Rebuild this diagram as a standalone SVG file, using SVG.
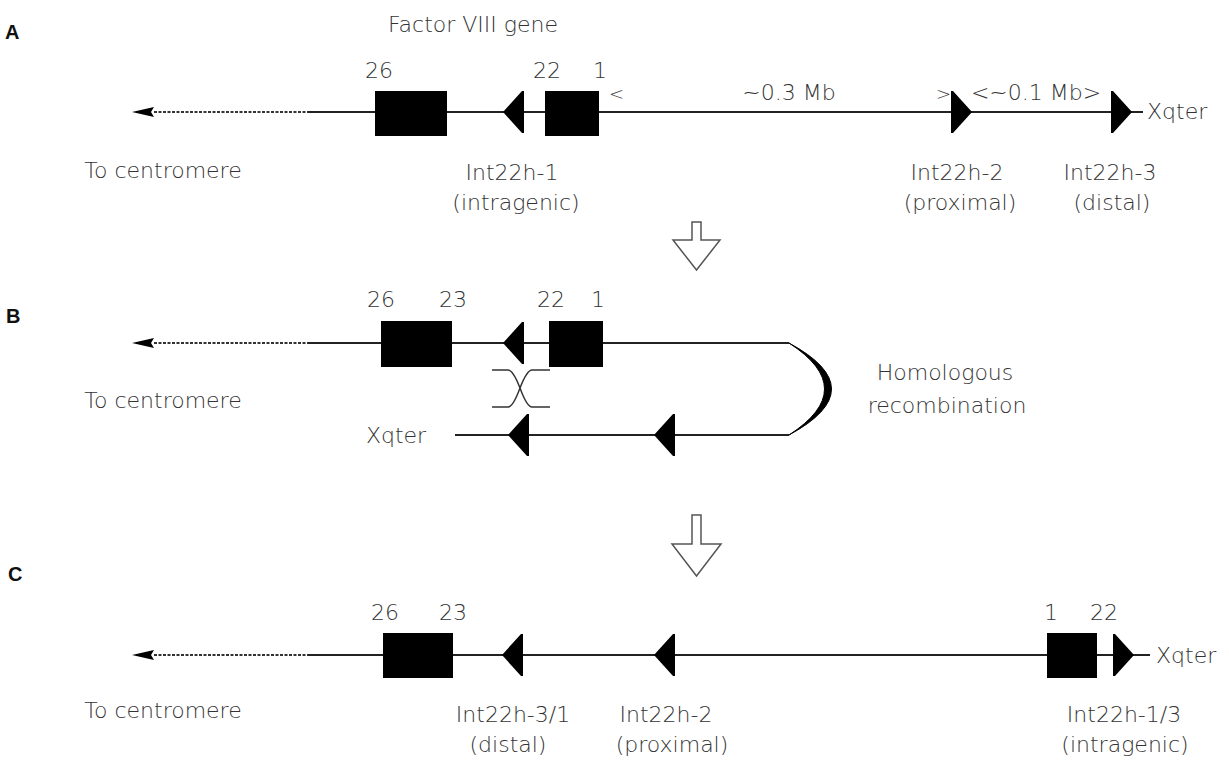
<svg xmlns="http://www.w3.org/2000/svg" width="1229" height="768" viewBox="0 0 1229 768">
<style>
.t{font-family:"DejaVu Sans","Liberation Sans",sans-serif;font-size:22px;font-weight:200;fill:#333}
.m{text-anchor:middle}
.s{font-size:18px}
.lbl{font-family:"Liberation Sans",Arial,sans-serif;font-size:20px;font-weight:bold;fill:#111}
.ln{stroke:#222;stroke-width:2;fill:none}
.dash{stroke:#333;stroke-width:2;stroke-dasharray:3 1.5;fill:none}
.box{fill:#000}
.x{stroke:#333;stroke-width:1.5;fill:none}
.hol{fill:#fff;stroke:#555;stroke-width:1.5}
</style>
<defs>
<path id="tl" d="M0,0 L19,-21 L21,-21 L21,21 L19,21 Z" fill="#000"/>
<path id="tr" d="M0,0 L-19,-21 L-21,-21 L-21,21 L-19,21 Z" fill="#000"/>
<path id="ah" d="M0,0 L22,-5 L19,0 L22,5 Z" fill="#000"/>
</defs>

<g id="connectors">
  <!-- Panel A -->
  <line class="dash" x1="154" y1="112" x2="308" y2="112"/>
  <line class="ln" x1="308" y1="112" x2="1143" y2="112"/>
  <!-- Panel B -->
  <line class="dash" x1="154" y1="343" x2="308" y2="343"/>
  <line class="ln" x1="308" y1="343" x2="789" y2="343"/>
  <line class="ln" x1="455" y1="435" x2="789" y2="435"/>
  <path d="M789,343 Q874,389 789,435 Q860,389 789,343 Z" fill="#000" stroke="#000" stroke-width="1"/>
  <path class="x" d="M492,370 H508 Q513,370 520,388 Q527,407 532,407 H550"/>
  <path class="x" d="M550,370 H532 Q527,370 520,388 Q513,407 508,407 H492"/>
  <!-- Panel C -->
  <line class="dash" x1="154" y1="655" x2="308" y2="655"/>
  <line class="ln" x1="308" y1="655" x2="1150" y2="655"/>
  <!-- hollow transition arrows -->
  <path class="hol" d="M692,222 H701 V240 H720 L696.5,270 L673,240 H692 Z"/>
  <path class="hol" d="M692,515 H701 V544 H721 L696.5,576 L672,544 H692 Z"/>
</g>

<g id="panelA">
  <text class="lbl" x="5" y="39">A</text>
  <text class="t m" x="473" y="32">Factor VIII gene</text>
  <use href="#ah" x="132" y="112"/>
  <text class="t m" x="163" y="178">To centromere</text>
  <g id="A-exon26"><rect class="box" x="375" y="91" width="72" height="45"/><text class="t m" x="379" y="78">26</text></g>
  <g id="A-int22h1"><use href="#tl" x="503" y="112"/><text class="t m" x="512" y="180">Int22h-1</text><text class="t m" x="516" y="210">(intragenic)</text></g>
  <g id="A-exon1-22"><rect class="box" x="545" y="91" width="54" height="45"/><text class="t m" x="547" y="78">22</text><text class="t m" x="600" y="78">1</text></g>
  <text class="t s" x="609" y="100">&lt;</text>
  <text class="t m" x="789" y="100">~0.3 Mb</text>
  <text class="t s" x="936" y="100">&gt;</text>
  <g id="A-int22h2"><use href="#tr" x="972" y="112"/><text class="t m" x="957" y="180">Int22h-2</text><text class="t m" x="960" y="210">(proximal)</text></g>
  <text class="t m" x="1036" y="100">&lt;~0.1 Mb&gt;</text>
  <g id="A-int22h3"><use href="#tr" x="1132" y="112"/><text class="t m" x="1110" y="180">Int22h-3</text><text class="t m" x="1112" y="210">(distal)</text></g>
  <text class="t" x="1147" y="119">Xqter</text>
</g>

<g id="panelB">
  <text class="lbl" x="6" y="323">B</text>
  <use href="#ah" x="132" y="343"/>
  <text class="t m" x="163" y="408">To centromere</text>
  <g id="B-exon26-23"><rect class="box" x="381" y="321" width="71" height="46"/><text class="t m" x="381" y="307">26</text><text class="t m" x="453" y="307">23</text></g>
  <g id="B-int22h1"><use href="#tl" x="503" y="343"/></g>
  <g id="B-exon1-22"><rect class="box" x="549" y="321" width="54" height="46"/><text class="t m" x="551" y="307">22</text><text class="t m" x="598" y="307">1</text></g>
  <text class="t m" x="396" y="443">Xqter</text>
  <g id="B-low1"><use href="#tl" x="508" y="435"/></g>
  <g id="B-low2"><use href="#tl" x="654" y="435"/></g>
  <text class="t m" x="945" y="380">Homologous</text>
  <text class="t m" x="947" y="413">recombination</text>
</g>

<g id="panelC">
  <text class="lbl" x="8" y="581">C</text>
  <use href="#ah" x="132" y="655"/>
  <text class="t m" x="163" y="718">To centromere</text>
  <g id="C-exon26-23"><rect class="box" x="383" y="633" width="70" height="45"/><text class="t m" x="385" y="620">26</text><text class="t m" x="453" y="620">23</text></g>
  <g id="C-int22h31"><use href="#tl" x="502" y="655"/><text class="t m" x="513" y="722">Int22h-3/1</text><text class="t m" x="508" y="752">(distal)</text></g>
  <g id="C-int22h2"><use href="#tl" x="654" y="655"/><text class="t m" x="666" y="722">Int22h-2</text><text class="t m" x="672" y="752">(proximal)</text></g>
  <g id="C-exon1-22"><rect class="box" x="1047" y="633" width="50" height="45"/><text class="t m" x="1051" y="620">1</text><text class="t m" x="1104" y="620">22</text></g>
  <g id="C-int22h13"><use href="#tr" x="1134" y="655"/><text class="t m" x="1124" y="722">Int22h-1/3</text><text class="t m" x="1125" y="752">(intragenic)</text></g>
  <text class="t" x="1156" y="663">Xqter</text>
</g>
</svg>
